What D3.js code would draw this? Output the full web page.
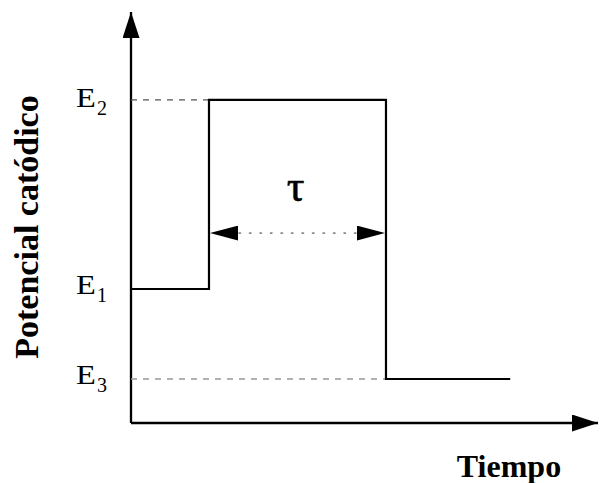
<!DOCTYPE html>
<html>
<head>
<meta charset="utf-8">
<script src="https://cdn.jsdelivr.net/npm/d3@7"></script>
<style>
  html, body { margin: 0; padding: 0; background: #fff; }
  svg { display: block; }
</style>
</head>
<body>
<script>
// ---- data ----
const levelNames = ["E1", "E2", "E3"];
const levelValues = [3.26, 7.86, 1.07];          // potential levels (arbitrary units)
const stepTimes = [0, 1.67, 5.46, 8.12];          // start, rise, fall, end
const stepLevels = ["E1", "E2", "E3"];            // level held in each interval
const tauLevel = 4.62;                            // height of the τ arrow
const tauLabel = "τ";
const xLabel = "Tiempo";
const yLabel = "Potencial catódico";

const W = 603, H = 483;
const svg = d3.select("body").append("svg").attr("width", W).attr("height", H);

const x = d3.scaleLinear().domain([0, 10]).range([131, 598]);
const y = d3.scaleLinear().domain([0, 10]).range([423, 12]);
const lv = name => levelValues[levelNames.indexOf(name)];
const serif = "Liberation Serif, Times New Roman, serif";

// markers
const defs = svg.append("defs");
function marker(id, len, half) {
  defs.append("marker")
    .attr("id", id)
    .attr("markerUnits", "userSpaceOnUse")
    .attr("viewBox", `0 ${-half} ${len} ${2*half}`)
    .attr("refX", len).attr("refY", 0)
    .attr("markerWidth", len).attr("markerHeight", 2*half)
    .attr("orient", "auto")
    .append("path")
    .attr("d", `M0,${-half}L${len},0L0,${half}Z`)
    .attr("fill", "#000");
}
marker("axArrow", 26, 8.5);
marker("tauArrow", 28, 7.5);

// axes
svg.append("line")
  .attr("x1", x(0)).attr("y1", y(0)).attr("x2", x(0)).attr("y2", y(10))
  .attr("stroke", "#000").attr("stroke-width", 2.3)
  .attr("marker-end", "url(#axArrow)");
svg.append("line")
  .attr("x1", x(0)).attr("y1", y(0)).attr("x2", x(10)).attr("y2", y(0))
  .attr("stroke", "#000").attr("stroke-width", 2.3)
  .attr("marker-end", "url(#axArrow)");

// dashed guides for E2 and E3
svg.append("line")
  .attr("x1", x(0)).attr("x2", x(stepTimes[1]))
  .attr("y1", y(lv("E2"))).attr("y2", y(lv("E2")))
  .attr("stroke", "#555").attr("stroke-width", 1.3).attr("stroke-dasharray", "6,6");
svg.append("line")
  .attr("x1", x(0)).attr("x2", x(stepTimes[2]))
  .attr("y1", y(lv("E3"))).attr("y2", y(lv("E3")))
  .attr("stroke", "#999").attr("stroke-width", 1.3).attr("stroke-dasharray", "6,6");

// step waveform
const pts = [];
stepLevels.forEach((l, i) => {
  pts.push([stepTimes[i], lv(l)]);
  pts.push([stepTimes[i + 1], lv(l)]);
});
svg.append("path")
  .datum(pts)
  .attr("d", d3.line().x(d => x(d[0])).y(d => y(d[1])))
  .attr("fill", "none").attr("stroke", "#000").attr("stroke-width", 2.2);

// tau arrow
const tauY = y(tauLevel);
const xa = x(stepTimes[1]), xb = x(stepTimes[2]);
svg.append("line")
  .attr("x1", xa + 30).attr("x2", xb - 30)
  .attr("y1", tauY).attr("y2", tauY)
  .attr("stroke", "#888").attr("stroke-width", 1.6)
  .attr("stroke-dasharray", "1.5,9").attr("stroke-linecap", "round");
svg.append("line")
  .attr("x1", xa + 28).attr("x2", xa + 1)
  .attr("y1", tauY).attr("y2", tauY)
  .attr("stroke", "none").attr("marker-end", "url(#tauArrow)");
svg.append("line")
  .attr("x1", xb - 28).attr("x2", xb - 1)
  .attr("y1", tauY).attr("y2", tauY)
  .attr("stroke", "none").attr("marker-end", "url(#tauArrow)");
svg.append("text")
  .attr("x", (xa + xb) / 2 - 2)
  .attr("y", tauY - 32)
  .attr("text-anchor", "middle")
  .attr("font-family", serif)
  .attr("font-size", 44)
  .attr("stroke", "#000").attr("stroke-width", 0.6)
  .text(tauLabel);

// level labels
levelNames.forEach(name => {
  const base = y(lv(name)) + (name === "E2" ? 7 : 5);
  const g = svg.append("g").attr("transform", `translate(76,${base})`);
  g.append("text")
    .attr("transform", "scale(1.2,1)")
    .attr("font-family", serif)
    .attr("font-size", 27)
    .text(name[0]);
  g.append("text")
    .attr("x", 21).attr("y", 8)
    .attr("font-family", serif)
    .attr("font-size", 20)
    .text(name.slice(1));
});

// axis titles
svg.append("text")
  .attr("x", 509).attr("y", 477)
  .attr("text-anchor", "middle")
  .attr("font-family", serif)
  .attr("font-weight", "bold")
  .attr("font-size", 32)
  .text(xLabel);
svg.append("text")
  .attr("transform", "translate(38,227) rotate(-90)")
  .attr("text-anchor", "middle")
  .attr("font-family", serif)
  .attr("font-weight", "bold")
  .attr("font-size", 34)
  .text(yLabel);
</script>
</body>
</html>
